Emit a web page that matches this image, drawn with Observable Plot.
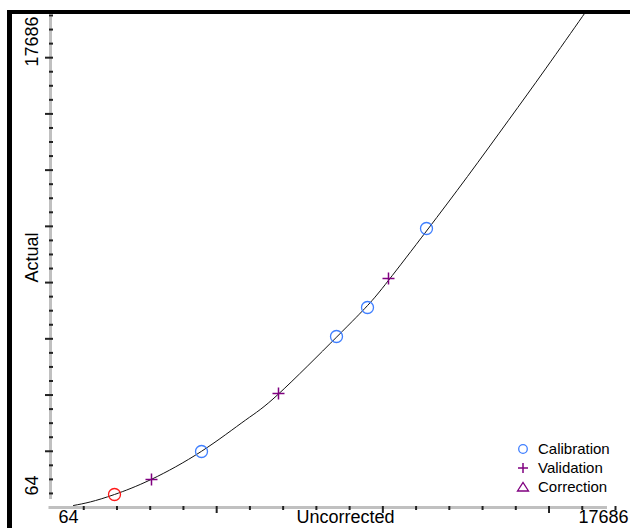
<!DOCTYPE html>
<html>
<head>
<meta charset="utf-8">
<script src="https://cdn.jsdelivr.net/npm/d3@7"></script>
<script src="https://cdn.jsdelivr.net/npm/@observablehq/plot@0.6"></script>
<style>
html, body { margin: 0; padding: 0; background: #fff; width: 630px; height: 528px; overflow: hidden; }
#frame { position: absolute; left: 7px; top: 10px; width: 623px; height: 518px; box-sizing: border-box;
  border-top: 4px solid #000; border-left: 5px solid #000; overflow: hidden; background: #fff; }
#chart { position: absolute; left: -12px; top: -14px; }
#legend { position: absolute; left: 516px; top: 439px; font-family: "Liberation Sans", Arial, sans-serif; font-size: 15px; color: #000; }
#legend .row { height: 19px; display: flex; align-items: center; }
#legend .row span { margin-left: 8px; }
</style>
</head>
<body>
<div id="frame"><div id="chart"></div></div>
<div id="legend"></div>
<script>
// ---- data ----
const xDomain = [64, 17686];
const yDomain = [64, 17686];
const tickLabels = ["64", "17686"];
const xAxisLabel = "Uncorrected";
const yAxisLabel = "Actual";
const xMinorCount = 17;   // minor tick intervals on x
const xMajorEvery = 5;
const yMinorCount = 35;   // minor tick intervals on y
const yMajorEvery = 4;

// Calibration points (blue circles)
const calX = [4774, 8984, 9951, 11791];
const calY = [2070, 6189, 7227, 10057];
// Highlighted calibration point (red circle)
const selX = [2060];
const selY = [530];
// Validation points (purple plus)
const valX = [3214, 7175, 10606];
const valY = [1067, 4147, 8266];
// Fitted correction curve
const fitX = [781, 1312, 2060, 3214, 4774, 6146, 7175, 8984, 9951, 10606, 11791, 13070, 14349, 15503, 16657, 17063];
const fitY = [136, 265, 530, 1074, 2077, 3194, 4129, 6164, 7296, 8198, 9967, 11920, 13932, 15773, 17654, 18316];

const legendLabels = ["Calibration", "Validation", "Correction"];
const blue = "#3f7fff", red = "#ff1a1a", purple = "#800080";

// ---- build tables ----
const cal = calX.map((x, i) => ({x, y: calY[i]}));
const sel = selX.map((x, i) => ({x, y: selY[i]}));
const val = valX.map((x, i) => ({x, y: valY[i]}));
const fit = fitX.map((x, i) => ({x, y: fitY[i]}));

const xStep = (xDomain[1] - xDomain[0]) / xMinorCount;
const yStep = (yDomain[1] - yDomain[0]) / yMinorCount;
const xTicks = d3.range(1, xMinorCount + 1).map(k => ({v: xDomain[0] + k * xStep, major: k % xMajorEvery === 0}));
const yTicks = d3.range(1, yMinorCount + 1).map(k => ({v: yDomain[0] + k * yStep, major: k % yMajorEvery === 0}));

const plusSymbol = {
  draw(ctx, size) {
    const r = Math.sqrt(size / Math.PI);
    ctx.moveTo(-r, 0); ctx.lineTo(r, 0);
    ctx.moveTo(0, -r); ctx.lineTo(0, r);
  }
};

const font = "Liberation Sans, Arial, sans-serif";
const x0 = xDomain[0], y0 = yDomain[0];
const xMid = (xDomain[0] + xDomain[1]) / 2, yMid = (yDomain[0] + yDomain[1]) / 2;

const chart = Plot.plot({
  width: 630,
  height: 528,
  margin: 0,
  x: {domain: xDomain, range: [50, 615], axis: null},
  y: {domain: yDomain, range: [507, 15], axis: null},
  style: {fontFamily: font, background: "transparent", color: "#000"},
  marks: [
    // axis lines
    Plot.ruleX([x0], {x: d => d, y1: yDomain[0], y2: yDomain[1], stroke: "#c0c0c0", strokeWidth: 3, insetTop: -8, insetBottom: -1.5}),
    Plot.ruleY([y0], {y: d => d, x1: xDomain[0], x2: xDomain[1], stroke: "#c0c0c0", strokeWidth: 3, insetRight: 8, insetLeft: -1.5}),
    // y ticks
    Plot.ruleY(yTicks.filter(d => !d.major), {y: "v", x1: x0, x2: x0, insetLeft: -1, insetRight: -3, stroke: "#222", strokeWidth: 2}),
    Plot.ruleY(yTicks.filter(d => d.major), {y: "v", x1: x0, x2: x0, insetLeft: -5, insetRight: -3, stroke: "#222", strokeWidth: 2}),
    // x ticks
    Plot.ruleX(xTicks.filter(d => !d.major), {x: "v", y1: y0, y2: y0, insetTop: -1, insetBottom: -3, stroke: "#222", strokeWidth: 2}),
    Plot.ruleX(xTicks.filter(d => d.major), {x: "v", y1: y0, y2: y0, insetTop: -1, insetBottom: -6, stroke: "#222", strokeWidth: 2}),
    // curve
    Plot.line(fit, {x: "x", y: "y", curve: "natural", stroke: "#111", strokeWidth: 1}),
    // points
    Plot.dot(cal, {x: "x", y: "y", r: 6, stroke: blue, fill: "none", strokeWidth: 1.3}),
    Plot.dot(sel, {x: "x", y: "y", r: 6, stroke: red, fill: "none", strokeWidth: 1.3}),
    Plot.dot(val, {x: "x", y: "y", r: 6, symbol: plusSymbol, stroke: purple, fill: "none", strokeWidth: 1.5}),
    // x labels
    Plot.text([tickLabels[0]], {x: x0, y: y0, text: d => d, textAnchor: "start", lineAnchor: "bottom", dx: 8, dy: 15, fontSize: 18, fill: "#000"}),
    Plot.text([xAxisLabel], {x: xMid, y: y0, text: d => d, textAnchor: "middle", lineAnchor: "bottom", dx: 12.5, dy: 15, fontSize: 18, fill: "#000"}),
    Plot.text([tickLabels[1]], {x: xDomain[1], y: y0, text: d => d, textAnchor: "end", lineAnchor: "bottom", dx: 13, dy: 15, fontSize: 18, fill: "#000"}),
    // y labels
    Plot.text([tickLabels[0]], {x: x0, y: y0, text: d => d, rotate: -90, textAnchor: "start", lineAnchor: "bottom", dx: -13, dy: -12, fontSize: 18, fill: "#000"}),
    Plot.text([yAxisLabel], {x: x0, y: yMid, text: d => d, rotate: -90, textAnchor: "middle", lineAnchor: "bottom", dx: -13, dy: -4, fontSize: 18, fill: "#000"}),
    Plot.text([tickLabels[1]], {x: x0, y: yDomain[1], text: d => d, rotate: -90, textAnchor: "start", lineAnchor: "bottom", dx: -13, dy: 51, fontSize: 18, fill: "#000"})
  ]
});
document.getElementById("chart").appendChild(chart);

// legend
const icons = [
  `<circle cx="7" cy="7" r="4.3" fill="none" stroke="${blue}" stroke-width="1.3"/>`,
  `<path d="M2,7H12M7,2V12" fill="none" stroke="${purple}" stroke-width="1.5"/>`,
  `<path d="M1.5,11H12.5L7,2.5Z" fill="none" stroke="${purple}" stroke-width="1.3"/>`
];
const legend = document.getElementById("legend");
legendLabels.forEach((lab, i) => {
  const row = document.createElement("div");
  row.className = "row";
  row.innerHTML = `<svg width="14" height="14" viewBox="0 0 14 14">${icons[i]}</svg><span>${lab}</span>`;
  legend.appendChild(row);
});
</script>
</body>
</html>
